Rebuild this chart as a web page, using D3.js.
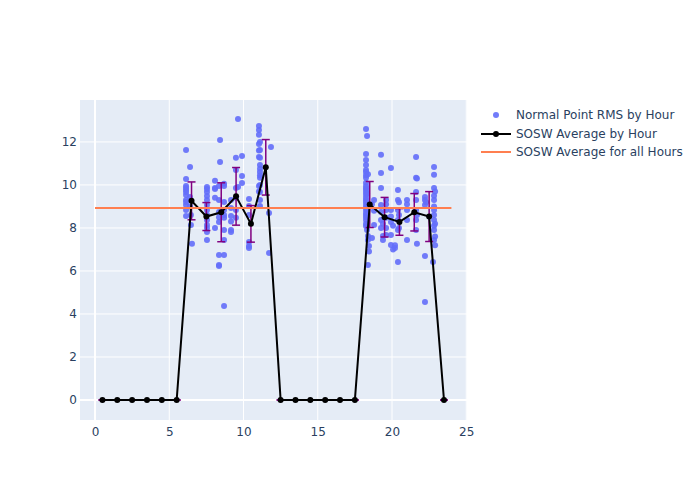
<!DOCTYPE html>
<html>
<head>
<meta charset="utf-8">
<script src="https://cdn.jsdelivr.net/npm/d3@7"></script>
<style>
  body { margin: 0; background: #fff; }
  svg text { font-family: "DejaVu Sans", Verdana, sans-serif; }
</style>
</head>
<body>
<svg id="chart" width="700" height="500"></svg>
<script>
// ---------- DATA ----------
const hours = [0.5,1.5,2.5,3.5,4.5,5.5,6.5,7.5,8.5,9.5,10.5,11.5,12.5,13.5,14.5,15.5,16.5,17.5,18.5,19.5,20.5,21.5,22.5,23.5];
const soswAvg = [0,0,0,0,0,0, 9.26,8.53,8.73,9.47,8.19,10.82, 0,0,0,0,0,0, 9.09,8.50,8.28,8.73,8.53, 0];
const soswErr = [0,0,0,0,0,0, 0.88,0.65,1.37,1.34,0.85,1.29, 0,0,0,0,0,0, 1.07,0.92,0.62,0.87,1.16, 0];
const overallAvg = 8.93;
const overallRange = [0, 24];

// Normal point RMS columns: hour position and the RMS values observed there
const rmsHour = [6.13,6.40,6.46,6.53,7.54,8.08,8.35,8.42,8.69,9.16,9.49,9.63,9.90,10.37,11.04,11.11,11.72,11.85,
                 18.25,18.32,18.38,18.45,18.65,18.79,19.26,19.39,19.60,19.93,20.07,20.20,20.40,20.47,21.01,21.62,21.68,22.22,22.29,22.76,22.83,22.90];
const rmsValues = [
  [11.63,10.28,9.95,9.77,9.53,9.30,9.07,8.84,8.56,9.86,9.67,9.21],
  [10.84,9.44,9.0],
  [8.14,8.6],
  [7.26],
  [9.91,9.67,9.49,9.30,9.07,8.84,8.60,8.37,8.14,7.81,7.44,9.81,8.0],
  [10.19,9.81,9.40,8.0,9.86],
  [9.30,8.74,8.28,6.74,6.23,6.28,9.95,8.5],
  [12.09,11.07],
  [10.05,9.95,9.21,8.84,8.47,7.91,7.44,4.37,6.74,8.6],
  [9.30,8.93,8.56,7.91,7.81,8.3],
  [11.26,10.70,9.86,9.40,8.84,8.47],
  [13.07,9.9],
  [11.35,10.42,10.09],
  [9.35,9.02,8.60,7.35,7.07,7.16],
  [12.74,12.56,12.33,11.9,11.6,11.3,9.95,9.7],
  [12.0,11.63,11.26,10.93,10.60,10.33,10.0,9.67,9.30,9.02,10.75,10.45],
  [8.70,6.84],
  [11.77],
  [12.60,11.44,11.16,10.93,10.60,10.33,9.95,9.77,9.53,9.30,9.07,8.84,8.60,8.37,8.09,10.7,10.45,10.1,9.85,9.65,9.4,9.2,8.95,8.7,8.5,8.2],
  [12.28,7.91,9.6,8.9],
  [7.63,7.44,6.28,10.5],
  [7.16,6.9],
  [7.53,9.1],
  [8.14,9.3,8.8],
  [11.40,10.56,9.86,9.07,8.74,8.37,8.0],
  [7.63,7.44,8.2],
  [9.30,8.84,8.47,8.00,7.67,9.1],
  [10.79,8.84,8.53,8.28,7.67,7.21],
  [8.1,7.0],
  [7.07,7.2],
  [9.77,9.30,8.84,8.37,7.91,6.42],
  [9.2,8.6,8.0],
  [9.30,8.84,8.37,7.44,9.1],
  [11.30,10.33,9.67,9.30,8.84,8.37,7.91],
  [7.26,10.3,8.6],
  [9.44,9.30,9.07,6.70,4.56],
  [9.2],
  [6.42],
  [10.84,10.47,9.86,9.30,8.84,8.37,7.91,7.44,9.5,9.0,8.6,8.1],
  [9.7,8.2,7.6,7.2]
];
const xTicks = [0,5,10,15,20,25];
const yTicks = [0,2,4,6,8,10,12];
const legendLabels = ["Normal Point RMS by Hour","SOSW Average by Hour","SOSW Average for all Hours"];

// ---------- LAYOUT ----------
const svg = d3.select("#chart");
const L = 80, R = 467, T = 100, B = 420;
const x = d3.scaleLinear().domain([-1.01, 25.05]).range([L, R]);
const y = d3.scaleLinear().domain([-0.93, 13.95]).range([B, T]);
const textColor = "#2a3f5f";

svg.append("rect").attr("x", L).attr("y", T).attr("width", R - L).attr("height", B - T).attr("fill", "#E5ECF6");

// grid
svg.append("g").selectAll("line").data(xTicks.filter(d => d !== 0)).join("line")
  .attr("x1", d => x(d)).attr("x2", d => x(d)).attr("y1", T).attr("y2", B)
  .attr("stroke", "#fff").attr("stroke-width", 1);
svg.append("g").selectAll("line").data(yTicks.filter(d => d !== 0)).join("line")
  .attr("x1", L).attr("x2", R).attr("y1", d => y(d)).attr("y2", d => y(d))
  .attr("stroke", "#fff").attr("stroke-width", 1);
// zero lines
svg.append("line").attr("x1", x(0)).attr("x2", x(0)).attr("y1", T).attr("y2", B).attr("stroke", "#fff").attr("stroke-width", 2);
svg.append("line").attr("x1", L).attr("x2", R).attr("y1", y(0)).attr("y2", y(0)).attr("stroke", "#fff").attr("stroke-width", 2);

// axes
const xAxis = d3.axisBottom(x).tickValues(xTicks).tickSize(0).tickPadding(8);
const gx = svg.append("g").attr("transform", `translate(0,${B})`).call(xAxis);
gx.select(".domain").remove();
gx.selectAll("text").attr("fill", textColor).style("font-size", "12px").style("font-family", "'DejaVu Sans', sans-serif").attr("dy", "0.71em").attr("y", 7);

const yAxis = d3.axisLeft(y).tickValues(yTicks).tickSize(0).tickPadding(3);
const gy = svg.append("g").attr("transform", `translate(${L},0)`).call(yAxis);
gy.select(".domain").remove();
gy.selectAll("text").attr("fill", textColor).style("font-size", "12px").style("font-family", "'DejaVu Sans', sans-serif");

// clip
svg.append("clipPath").attr("id", "clip").append("rect").attr("x", L).attr("y", T).attr("width", R - L).attr("height", B - T);
const plot = svg.append("g").attr("clip-path", "url(#clip)");

// scatter points
const pts = [];
rmsHour.forEach((h, i) => rmsValues[i].forEach(v => pts.push([h, v])));
plot.append("g").selectAll("circle").data(pts).join("circle")
  .attr("cx", d => x(d[0])).attr("cy", d => y(d[1])).attr("r", 3)
  .attr("fill", "#636efa").attr("opacity", 0.9);

// error bars
const eb = plot.append("g").attr("stroke", "#800080").attr("stroke-width", 1.5);
hours.forEach((h, i) => {
  const cx = x(h), y1 = y(soswAvg[i] + soswErr[i]), y2 = y(soswAvg[i] - soswErr[i]);
  eb.append("line").attr("x1", cx).attr("x2", cx).attr("y1", y1).attr("y2", y2);
  eb.append("line").attr("x1", cx - 4).attr("x2", cx + 4).attr("y1", y1).attr("y2", y1);
  eb.append("line").attr("x1", cx - 4).attr("x2", cx + 4).attr("y1", y2).attr("y2", y2);
});

// SOSW average by hour line
const line = d3.line().x((d, i) => x(hours[i])).y(d => y(d));
plot.append("path").datum(soswAvg).attr("d", line).attr("fill", "none").attr("stroke", "#000").attr("stroke-width", 2);
plot.append("g").selectAll("circle").data(soswAvg).join("circle")
  .attr("cx", (d, i) => x(hours[i])).attr("cy", d => y(d)).attr("r", 3).attr("fill", "#000");

// overall average
plot.append("line").attr("x1", x(overallRange[0])).attr("x2", x(overallRange[1]))
  .attr("y1", y(overallAvg)).attr("y2", y(overallAvg)).attr("stroke", "#FF7F50").attr("stroke-width", 2);

// legend
const lg = svg.append("g");
const rows = [115, 134, 152];
lg.append("circle").attr("cx", 496).attr("cy", rows[0]).attr("r", 3).attr("fill", "#636efa").attr("opacity", 0.9);
lg.append("line").attr("x1", 481).attr("x2", 511).attr("y1", rows[1]).attr("y2", rows[1]).attr("stroke", "#000").attr("stroke-width", 2);
lg.append("circle").attr("cx", 496).attr("cy", rows[1]).attr("r", 3).attr("fill", "#000");
lg.append("line").attr("x1", 481).attr("x2", 511).attr("y1", rows[2]).attr("y2", rows[2]).attr("stroke", "#FF7F50").attr("stroke-width", 2);
lg.selectAll("text").data(legendLabels).join("text")
  .attr("x", 516).attr("y", (d, i) => rows[i]).attr("dy", "0.35em")
  .attr("fill", textColor).style("font-size", "12px").text(d => d);
</script>
</body>
</html>
